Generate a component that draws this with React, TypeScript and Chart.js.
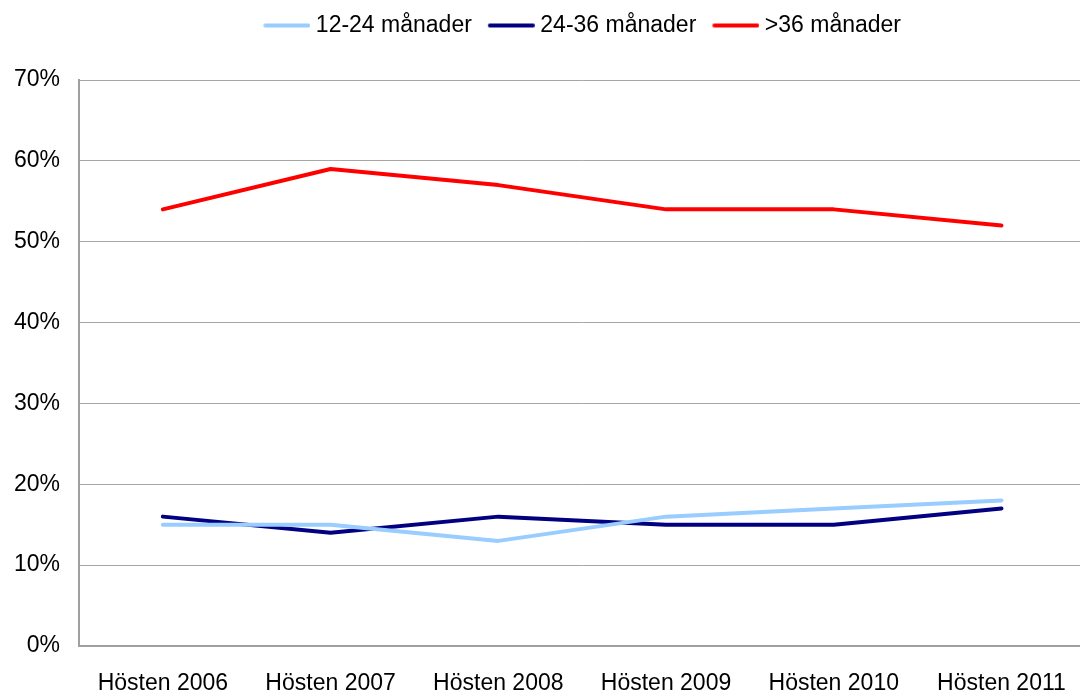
import React, { useEffect, useRef } from "react";
import { Chart, registerables } from "chart.js";

Chart.register(...registerables);

const categories = ["Hösten 2006", "Hösten 2007", "Hösten 2008", "Hösten 2009", "Hösten 2010", "Hösten 2011"];
const seriesNames = ["12-24 månader", "24-36 månader", ">36 månader"];
const series12to24 = [15, 15, 13, 16, 17, 18];
const series24to36 = [16, 14, 16, 15, 15, 17];
const seriesOver36 = [54, 59, 57, 54, 54, 52];
const seriesColors = ["#99CCFF", "#000080", "#FF0000"];
const yMin = 0;
const yMax = 70;
const yStep = 10;

const FONT = "'Liberation Sans', Arial, sans-serif";

function makeSample(color: string): HTMLCanvasElement {
  const c = document.createElement("canvas");
  c.width = 53;
  c.height = 8;
  const ctx = c.getContext("2d")!;
  ctx.strokeStyle = color;
  ctx.lineWidth = 4;
  ctx.lineCap = "round";
  ctx.beginPath();
  ctx.moveTo(8, 4);
  ctx.lineTo(51, 4);
  ctx.stroke();
  return c;
}

export default function App() {
  const ref = useRef<HTMLCanvasElement>(null);

  useEffect(() => {
    if (!ref.current) return;
    const samples = seriesColors.map(makeSample);

    const legendPlacement = {
      id: "legendPlacement",
      beforeInit(chart: any) {
        const leg = chart.legend;
        if (!leg) return;
        const orig = leg.fit;
        leg.fit = function () {
          orig.call(this);
          this.height = 80;
        };
      },
      afterLayout(chart: any) {
        const leg = chart.legend;
        if (!leg) return;
        leg.left = chart.chartArea.left;
        leg.right = chart.chartArea.right;
        leg.top = -2;
      },
    };

    const mk = (label: string, data: number[], color: string) => ({
      label,
      data,
      borderColor: color,
      backgroundColor: color,
      borderWidth: 4,
      borderCapStyle: "round" as const,
      borderJoinStyle: "round" as const,
      pointRadius: 0,
      pointHoverRadius: 0,
      tension: 0,
      fill: false,
    });

    const chart = new Chart(ref.current, {
      type: "line",
      data: {
        labels: categories,
        datasets: [
          mk(seriesNames[0], series12to24, seriesColors[0]),
          mk(seriesNames[1], series24to36, seriesColors[1]),
          mk(seriesNames[2], seriesOver36, seriesColors[2]),
        ],
      },
      options: {
        responsive: false,
        animation: false,
        layout: { padding: { left: 0, right: 2, top: 0, bottom: 0 } },
        plugins: {
          tooltip: { enabled: false },
          legend: {
            position: "top",
            labels: {
              usePointStyle: true,
              pointStyleWidth: 41,
              padding: 16,
              color: "#000",
              font: { family: FONT, size: 23 },
              generateLabels: (c: any) =>
                Chart.defaults.plugins.legend.labels
                  .generateLabels(c)
                  .map((l: any, i: number) => ({ ...l, pointStyle: samples[i] })),
            },
          },
        },
        scales: {
          x: {
            offset: true,
            grid: { display: false, drawTicks: false },
            border: { display: true, color: "#a0a0a0", width: 2 },
            ticks: {
              color: "#000",
              font: { family: FONT, size: 23 },
              padding: 24,
              maxRotation: 0,
              autoSkip: false,
            },
            afterFit: (scale: any) => {
              scale.height = 49;
            },
          },
          y: {
            min: yMin,
            max: yMax,
            grid: { color: "#a6a6a6", lineWidth: 1, drawTicks: false },
            border: { display: true, color: "#a0a0a0", width: 2 },
            ticks: {
              stepSize: yStep,
              color: "#000",
              font: { family: FONT, size: 23 },
              padding: 19,
              callback: (v: any) => v + "%",
            },
            afterFit: (scale: any) => {
              scale.width = 79;
            },
          },
        },
      },
      plugins: [legendPlacement],
    });
    return () => chart.destroy();
  }, []);

  return (
    <div
      style={{
        position: "fixed",
        left: 0,
        top: 0,
        width: 1080,
        height: 695,
        overflow: "hidden",
        background: "#fff",
      }}
    >
      <canvas ref={ref} width={1090} height={695} style={{ display: "block" }} />
    </div>
  );
}
